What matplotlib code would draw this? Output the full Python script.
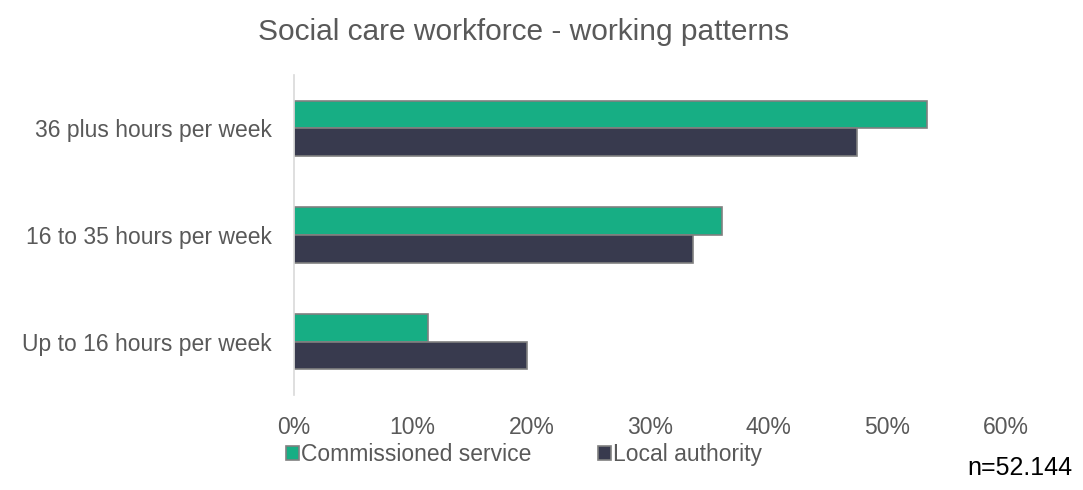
import matplotlib.pyplot as plt
import numpy as np
from matplotlib.ticker import FuncFormatter

plt.rcParams['font.family'] = ['Liberation Sans', 'DejaVu Sans']

categories = ["36 plus hours per week", "16 to 35 hours per week", "Up to 16 hours per week"]
commissioned = [53.3, 36.1, 11.3]
local_auth = [47.4, 33.6, 19.6]
series_names = ["Commissioned service", "Local authority"]

green = "#17ae84"
navy = "#383a4e"
grey_txt = "#595959"

fig = plt.figure(figsize=(10.83, 4.90), dpi=100)
ax = fig.add_axes([0.2715, 0.194, 0.6575, 0.653])

y = np.arange(len(categories))[::-1]
h = 0.26
ax.barh(y + h / 2, commissioned, height=h, color=green, edgecolor="#808080",
        linewidth=1.2, label=series_names[0])
ax.barh(y - h / 2, local_auth, height=h, color=navy, edgecolor="#808080",
        linewidth=1.2, label=series_names[1])

ax.set_xlim(0, 60)
ax.set_ylim(-0.5, 2.5)
ax.set_xticks(np.arange(0, 61, 10))
ax.xaxis.set_major_formatter(FuncFormatter(lambda v, p: f"{v:.0f}%"))
ax.set_yticks(y)
ax.set_yticklabels(categories)
ax.tick_params(axis="both", length=0, labelsize=16.5, colors=grey_txt)
ax.tick_params(axis="x", pad=15)
ax.tick_params(axis="y", pad=16)

for s in ["top", "right", "bottom"]:
    ax.spines[s].set_visible(False)
ax.spines["left"].set_color("#d9d9d9")
ax.spines["left"].set_linewidth(1.2)

fig.text(0.483, 0.935, "Social care workforce - working patterns", ha="center",
         va="center", fontsize=21.5, color=grey_txt)

fig.legend(loc="center", bbox_to_anchor=(0.484, 0.072), ncol=2, frameon=False,
           fontsize=16.5, handlelength=0.55, handleheight=0.55, handletextpad=0.12,
           columnspacing=2.9, labelcolor=grey_txt)

fig.text(0.99, 0.045, "n=52.144", ha="right", va="center", fontsize=18, color="black")

fig.savefig("out.png", dpi=100)
